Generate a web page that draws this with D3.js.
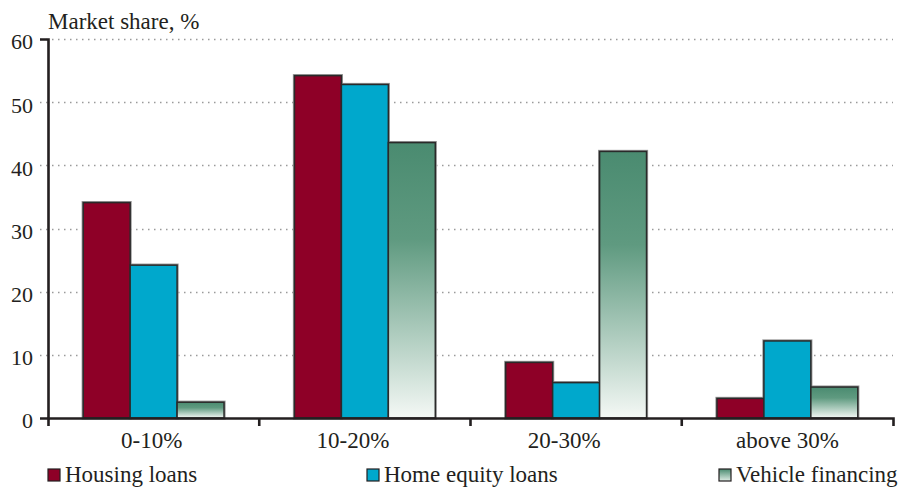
<!DOCTYPE html>
<html>
<head>
<meta charset="utf-8">
<script src="https://cdn.jsdelivr.net/npm/d3@7"></script>
<style>
  html, body { margin: 0; padding: 0; background: #fff; }
  svg { display: block; }
  text { font-family: "Liberation Serif", "DejaVu Serif", serif; fill: #231f20; }
</style>
</head>
<body>
<svg id="chart" width="901" height="491"></svg>
<script>
// Market share by bracket, three loan types
const categories = ["0-10%", "10-20%", "20-30%", "above 30%"];
const seriesNames = ["Housing loans", "Home equity loans", "Vehicle financing"];
const housingLoans = [34.1, 54.2, 8.8, 3.1];
const homeEquityLoans = [24.2, 52.8, 5.6, 12.2];
const vehicleFinancing = [2.5, 43.6, 42.2, 4.9];
const yTicks = [0, 10, 20, 30, 40, 50, 60];
const yTitle = "Market share, %";

const seriesValues = [housingLoans, homeEquityLoans, vehicleFinancing];

const svg = d3.select("#chart");
const plotLeft = 48, plotRight = 893, plotTop = 39, plotBottom = 418;
const labelFont = 23;

const x = d3.scaleBand().domain(categories).range([plotLeft, plotRight]).paddingInner(0).paddingOuter(0);
const xi = d3.scaleBand().domain(seriesNames).range([0, x.bandwidth()]).paddingInner(0).paddingOuter(0.75);
const y = d3.scaleLinear().domain([0, 60]).range([plotBottom, plotTop]);

// gradient for vehicle financing bars
const defs = svg.append("defs");
const grad = defs.append("linearGradient").attr("id", "vehGrad")
  .attr("x1", 0).attr("y1", 0).attr("x2", 0).attr("y2", 1);
grad.append("stop").attr("offset", "0%").attr("stop-color", "#4a8b70");
grad.append("stop").attr("offset", "35%").attr("stop-color", "#5f9a80");
grad.append("stop").attr("offset", "100%").attr("stop-color", "#f4f8f5");

const legendGrad = defs.append("linearGradient").attr("id", "legGrad")
  .attr("x1", 0).attr("y1", 0).attr("x2", 0).attr("y2", 1);
legendGrad.append("stop").attr("offset", "0%").attr("stop-color", "#4a8b70");
legendGrad.append("stop").attr("offset", "100%").attr("stop-color", "#dfece5");

const fills = ["#8e0027", "#00a8cc", "url(#vehGrad)"];
const legendFills = ["#8e0027", "#00a8cc", "url(#legGrad)"];

// dotted gridlines
svg.append("g").selectAll("line")
  .data(yTicks.filter(d => d > 0))
  .join("line")
  .attr("x1", 40).attr("x2", plotRight)
  .attr("y1", d => Math.round(y(d)) + 0.5).attr("y2", d => Math.round(y(d)) + 0.5)
  .attr("stroke", "#9a9a9a").attr("stroke-width", 1.3)
  .attr("stroke-dasharray", "1.5,4.5");

// bars
const bars = [];
categories.forEach((c, i) => {
  seriesNames.forEach((s, j) => {
    bars.push({ c, s, j, v: seriesValues[j][i] });
  });
});

const barG = svg.append("g");
barG.selectAll("rect.halo").data(bars).join("rect")
  .attr("class", "halo")
  .attr("x", d => x(d.c) + xi(d.s))
  .attr("y", d => y(d.v))
  .attr("width", xi.bandwidth())
  .attr("height", d => y(0) - y(d.v))
  .attr("fill", "none").attr("stroke", "#9a9a9a").attr("stroke-width", 3.2);
barG.selectAll("rect.bar").data(bars).join("rect")
  .attr("class", "bar")
  .attr("x", d => x(d.c) + xi(d.s))
  .attr("y", d => y(d.v))
  .attr("width", xi.bandwidth())
  .attr("height", d => y(0) - y(d.v))
  .attr("fill", d => fills[d.j])
  .attr("stroke", "#2a2a2a").attr("stroke-width", 1.5);

// y axis: domain path with outer ticks only
const yAxis = svg.append("g").attr("transform", `translate(${plotLeft},0)`)
  .call(d3.axisLeft(y).tickValues(yTicks).tickSize(0).tickSizeOuter(8).tickPadding(15).tickFormat(d3.format("d")));
yAxis.select(".domain").attr("stroke", "#231f20").attr("stroke-width", 2.6);
yAxis.selectAll(".tick text").attr("font-size", 22).attr("dy", "0.45em")
  .style("font-family", "'Liberation Serif', serif").attr("fill", "#231f20");

// x axis with boundary ticks
const labelNudge = [-2, -12, -12, 0];
const xAxis = svg.append("g").attr("transform", `translate(0,${plotBottom})`)
  .call(d3.axisBottom(x).tickSize(0).tickSizeOuter(8).tickPadding(14));
xAxis.select(".domain").attr("stroke", "#231f20").attr("stroke-width", 2.6);
xAxis.selectAll(".tick text").attr("font-size", labelFont).attr("dy", "0.71em")
  .attr("dx", (d, i) => labelNudge[i])
  .style("font-family", "'Liberation Serif', serif").attr("fill", "#231f20");
xAxis.append("g").selectAll("line")
  .data(categories.slice(1))
  .join("line")
  .attr("x1", d => x(d)).attr("x2", d => x(d))
  .attr("y1", 0).attr("y2", 8)
  .attr("stroke", "#231f20").attr("stroke-width", 2.6);

// y title
svg.append("text").attr("x", plotLeft).attr("y", 29)
  .attr("font-size", labelFont).text(yTitle);

// legend
const legendX = [48, 367, 719];
const leg = svg.append("g").selectAll("g").data(seriesNames).join("g")
  .attr("transform", (d, i) => `translate(${legendX[i]},469)`);
leg.append("rect").attr("width", 12).attr("height", 12)
  .attr("fill", (d, i) => legendFills[i])
  .attr("stroke", "#231f20").attr("stroke-width", 1.2);
leg.append("text").attr("x", 17).attr("y", 13)
  .attr("font-size", labelFont).text(d => d);
</script>
</body>
</html>
